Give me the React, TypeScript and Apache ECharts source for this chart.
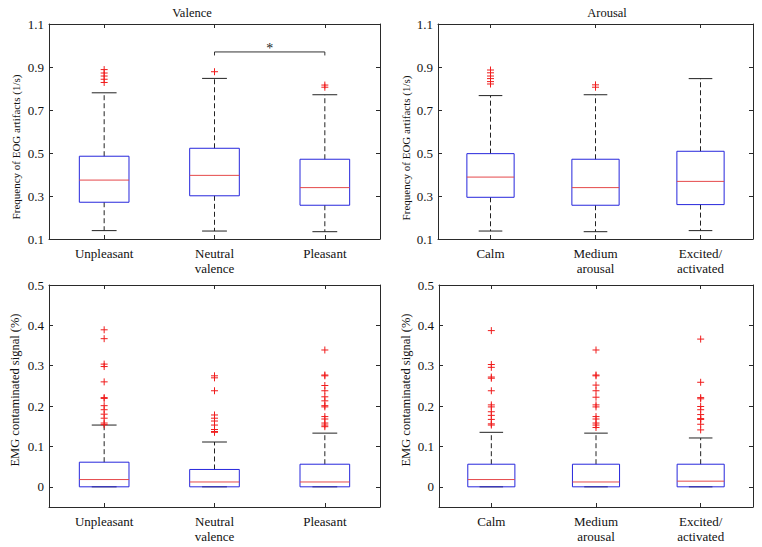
import React, { useEffect, useRef } from "react";
import * as echarts from "echarts";

const valenceCats = ["Unpleasant", "Neutral\nvalence", "Pleasant"];
const arousalCats = ["Calm", "Medium\narousal", "Excited/\nactivated"];

const eogTicks = [0.1, 0.3, 0.5, 0.7, 0.9, 1.1];
const emgTicks = [0, 0.1, 0.2, 0.3, 0.4, 0.5];

// [min whisker, Q1, median, Q3, max whisker]
const eogValenceBox = [
  [0.139, 0.271, 0.374, 0.485, 0.780],
  [0.137, 0.301, 0.396, 0.522, 0.847],
  [0.134, 0.257, 0.339, 0.471, 0.771],
];
const eogArousalBox = [
  [0.137, 0.294, 0.388, 0.497, 0.767],
  [0.134, 0.257, 0.339, 0.471, 0.771],
  [0.139, 0.260, 0.368, 0.508, 0.846],
];
const emgValenceBox = [
  [0, 0, 0.018, 0.061, 0.153],
  [0, 0, 0.012, 0.043, 0.111],
  [0, 0, 0.012, 0.056, 0.133],
];
const emgArousalBox = [
  [0, 0, 0.018, 0.056, 0.135],
  [0, 0, 0.012, 0.056, 0.133],
  [0, 0, 0.014, 0.056, 0.121],
];

const eogValenceOut = [
  [0.888, 0.872, 0.858, 0.843, 0.828],
  [0.878],
  [0.816, 0.806],
];
const eogArousalOut = [
  [0.886, 0.873, 0.858, 0.846, 0.832, 0.821],
  [0.817, 0.806],
  [],
];
const emgValenceOut = [
  [0.389, 0.367, 0.304, 0.298, 0.260, 0.221, 0.219, 0.201, 0.191, 0.180, 0.170, 0.158, 0.154],
  [0.275, 0.270, 0.238, 0.178, 0.170, 0.163, 0.153, 0.142, 0.137, 0.135],
  [0.339, 0.277, 0.275, 0.251, 0.238, 0.223, 0.213, 0.201, 0.198, 0.174, 0.168, 0.158, 0.153, 0.149],
];
const emgArousalOut = [
  [0.387, 0.303, 0.296, 0.272, 0.269, 0.238, 0.203, 0.198, 0.186, 0.177, 0.167, 0.156, 0.153],
  [0.339, 0.277, 0.275, 0.252, 0.238, 0.222, 0.203, 0.198, 0.174, 0.168, 0.158, 0.153, 0.147],
  [0.366, 0.259, 0.221, 0.218, 0.199, 0.191, 0.179, 0.169, 0.167, 0.155, 0.141],
];

// significance bracket: [from category, to category, level]
const sigBracket = [[1, 2, 0.97]];

const FONT = "Liberation Serif";
const AXIS = "#2a2a2a";
const BLUE = "#2626dc";
const MED = "#e5484a";
const OUT = "#f01c1c";

const panels = [
  { cats: valenceCats, box: eogValenceBox, out: eogValenceOut, min: 0.1, max: 1.1, ticks: eogTicks, grid: { left: 49, top: 24, width: 331, height: 215 } },
  { cats: arousalCats, box: eogArousalBox, out: eogArousalOut, min: 0.1, max: 1.1, ticks: eogTicks, grid: { left: 438, top: 24, width: 315, height: 215 } },
  { cats: valenceCats, box: emgValenceBox, out: emgValenceOut, min: -0.05, max: 0.5, ticks: emgTicks, grid: { left: 49, top: 285, width: 331, height: 222 } },
  { cats: arousalCats, box: emgArousalBox, out: emgArousalOut, min: -0.05, max: 0.5, ticks: emgTicks, grid: { left: 439, top: 285, width: 314, height: 222 } },
];

function boxRender(params: any, api: any) {
  const x = api.value(0);
  const mn = api.value(1), q1 = api.value(2), md = api.value(3), q3 = api.value(4), mx = api.value(5);
  const band = api.size([1, 0])[0];
  const hw = band * 0.225;
  const cw = hw / 2;
  const pMax = api.coord([x, mx]);
  const pQ3 = api.coord([x, q3]);
  const pMed = api.coord([x, md]);
  const pQ1 = api.coord([x, q1]);
  const pMin = api.coord([x, mn]);
  const cx = pMax[0];
  const dash = { stroke: "#222", lineWidth: 1, lineDash: [5, 3] };
  const solid = { stroke: "#222", lineWidth: 1 };
  return {
    type: "group",
    children: [
      { type: "line", shape: { x1: cx, y1: pQ3[1], x2: cx, y2: pMax[1] }, style: dash },
      { type: "line", shape: { x1: cx, y1: pQ1[1], x2: cx, y2: pMin[1] }, style: dash },
      { type: "line", shape: { x1: cx - cw, y1: pMax[1], x2: cx + cw, y2: pMax[1] }, style: solid },
      { type: "line", shape: { x1: cx - cw, y1: pMin[1], x2: cx + cw, y2: pMin[1] }, style: solid },
      { type: "rect", shape: { x: cx - hw, y: pQ3[1], width: hw * 2, height: pQ1[1] - pQ3[1] }, style: { fill: "none", stroke: BLUE, lineWidth: 1 } },
      { type: "line", shape: { x1: cx - hw, y1: pMed[1], x2: cx + hw, y2: pMed[1] }, style: { stroke: MED, lineWidth: 1 } },
    ],
  };
}

function outRender(params: any, api: any) {
  const p = api.coord([api.value(0), api.value(1)]);
  const s = 3.5;
  return {
    type: "group",
    children: [
      { type: "line", shape: { x1: p[0] - s, y1: p[1], x2: p[0] + s, y2: p[1] }, style: { stroke: OUT, lineWidth: 1 } },
      { type: "line", shape: { x1: p[0], y1: p[1] - s, x2: p[0], y2: p[1] + s }, style: { stroke: OUT, lineWidth: 1 } },
    ],
  };
}

function bracketRender(params: any, api: any) {
  const p1 = api.coord([api.value(0), api.value(2)]);
  const p2 = api.coord([api.value(1), api.value(2)]);
  const d = 3.5;
  return {
    type: "group",
    children: [
      { type: "polyline", shape: { points: [[p1[0], p1[1] + d], [p1[0], p1[1]], [p2[0], p2[1]], [p2[0], p2[1] + d]] }, style: { stroke: "#333", lineWidth: 1, fill: "none" } },
      { type: "text", x: (p1[0] + p2[0]) / 2, y: p1[1] - 3, style: { text: "*", fontFamily: FONT, fontSize: 14, fill: "#222", align: "center", verticalAlign: "middle" } },
    ],
  };
}

export default function App() {
  const ref = useRef<HTMLDivElement>(null);
  useEffect(() => {
    if (!ref.current) return;
    const chart = echarts.init(ref.current, null, { renderer: "svg" });
    const grid: any[] = [];
    const xAxis: any[] = [];
    const yAxis: any[] = [];
    const series: any[] = [];
    panels.forEach((p, g) => {
      grid.push({ ...p.grid, containLabel: false });
      const xBase = {
        gridIndex: g,
        type: "category",
        data: p.cats,
        boundaryGap: true,
        axisLine: { show: true, onZero: false, lineStyle: { color: AXIS, width: 1 } },
        axisTick: { show: true, inside: true, alignWithLabel: true, length: 4, lineStyle: { color: AXIS } },
        splitLine: { show: false },
      };
      xAxis.push({
        ...xBase,
        position: "bottom",
        axisLabel: { fontFamily: FONT, fontSize: 13, color: "#111", margin: 7, lineHeight: 15 },
      });
      xAxis.push({ ...xBase, position: "top", axisLabel: { show: false } });
      const yBase = {
        gridIndex: g,
        type: "value",
        min: p.min,
        max: p.max,
        axisLine: { show: true, onZero: false, lineStyle: { color: AXIS, width: 1 } },
        axisTick: { show: true, inside: true, length: 4, lineStyle: { color: AXIS }, customValues: p.ticks },
        splitLine: { show: false },
      };
      yAxis.push({
        ...yBase,
        position: "left",
        axisLabel: { fontFamily: FONT, fontSize: 13, color: "#111", margin: 5, customValues: p.ticks, formatter: (v: number) => String(Math.round(v * 10) / 10) },
      });
      yAxis.push({ ...yBase, position: "right", axisLabel: { show: false } });
      series.push({
        type: "custom",
        xAxisIndex: 2 * g,
        yAxisIndex: 2 * g,
        renderItem: boxRender,
        encode: { x: 0, y: [1, 2, 3, 4, 5] },
        data: p.box.map((b, i) => [i, ...b]),
        clip: false,
        z: 2,
      });
      const outData: number[][] = [];
      p.out.forEach((arr, i) => arr.forEach((v) => outData.push([i, v])));
      series.push({
        type: "custom",
        xAxisIndex: 2 * g,
        yAxisIndex: 2 * g,
        renderItem: outRender,
        encode: { x: 0, y: 1 },
        data: outData,
        clip: false,
        z: 3,
      });
    });
    series.push({
      type: "custom",
      xAxisIndex: 0,
      yAxisIndex: 0,
      renderItem: bracketRender,
      encode: { x: [0, 1], y: 2 },
      data: sigBracket,
      clip: false,
      z: 3,
    });
    const yName = (text: string, x: number, y: number, size: number) => ({
      type: "text",
      x,
      y,
      rotation: Math.PI / 2,
      style: { text, fontFamily: FONT, fontSize: size, fill: "#111", align: "center", verticalAlign: "middle" },
    });
    const title = (text: string, x: number, y: number) => ({
      type: "text",
      x,
      y,
      style: { text, fontFamily: FONT, fontSize: 12.5, fill: "#111", align: "center", verticalAlign: "middle" },
    });
    chart.setOption({
      animation: false,
      backgroundColor: "#ffffff",
      grid,
      xAxis,
      yAxis,
      series,
      graphic: [
        title("Valence", 192, 13),
        title("Arousal", 607, 13),
        yName("Frequency of EOG artifacts (1/s)", 16, 147, 11),
        yName("Frequency of EOG artifacts (1/s)", 406, 148, 11),
        yName("EMG contaminated signal (%)", 15, 390, 12.5),
        yName("EMG contaminated signal (%)", 406, 390, 12.5),
      ],
    });
    return () => chart.dispose();
  }, []);
  return <div ref={ref} style={{ position: "absolute", left: 0, top: 0, width: 762, height: 547 }} />;
}
